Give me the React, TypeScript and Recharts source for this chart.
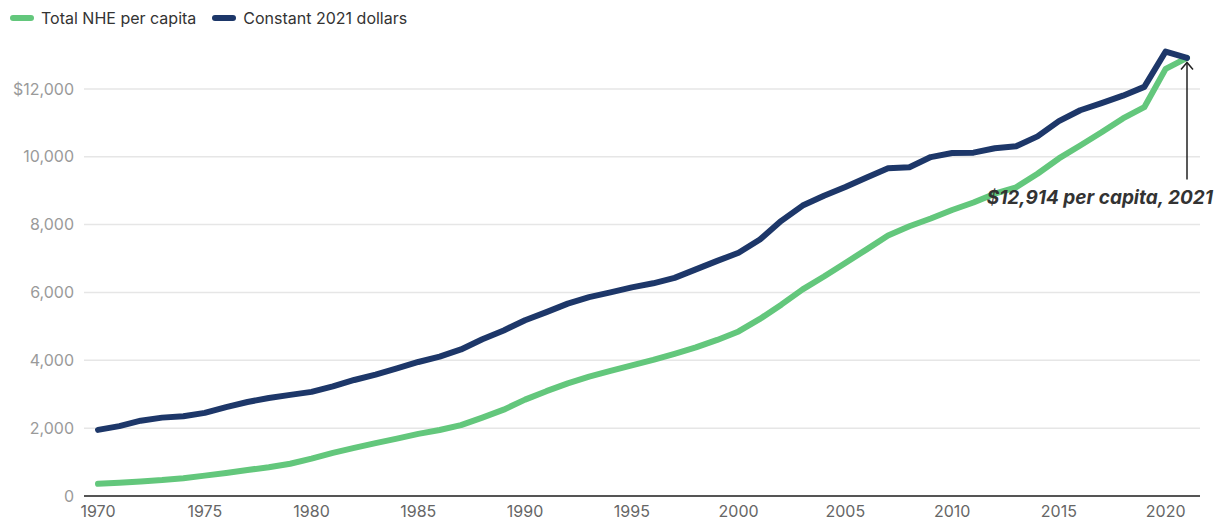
import React from 'react';
import { LineChart, Line, XAxis, YAxis, CartesianGrid, ReferenceLine } from 'recharts';

const years = [
  1970, 1971, 1972, 1973, 1974, 1975, 1976, 1977, 1978, 1979,
  1980, 1981, 1982, 1983, 1984, 1985, 1986, 1987, 1988, 1989,
  1990, 1991, 1992, 1993, 1994, 1995, 1996, 1997, 1998, 1999,
  2000, 2001, 2002, 2003, 2004, 2005, 2006, 2007, 2008, 2009,
  2010, 2011, 2012, 2013, 2014, 2015, 2016, 2017, 2018, 2019,
  2020, 2021,
];

// nominal NHE per capita
const totalNhe = [
  360, 390, 430, 470, 525, 600, 680, 765, 850, 950,
  1100, 1270, 1420, 1560, 1690, 1830, 1945, 2090, 2310, 2545,
  2840, 3090, 3320, 3520, 3690, 3850, 4010, 4190, 4380, 4600,
  4850, 5220, 5640, 6090, 6470, 6870, 7270, 7680, 7950, 8180,
  8430, 8650, 8910, 9100, 9500, 9950, 10330, 10720, 11130, 11460,
  12590, 12914,
];

// constant 2021 dollars
const constant2021 = [
  1950, 2060, 2220, 2310, 2350, 2450, 2620, 2770, 2890, 2980,
  3070, 3230, 3420, 3580, 3760, 3950, 4110, 4320, 4620, 4880,
  5180, 5420, 5670, 5860, 6000, 6150, 6270, 6430, 6680, 6930,
  7170, 7560, 8110, 8560, 8850, 9110, 9390, 9660, 9690, 9990,
  10110, 10120, 10250, 10310, 10600, 11050, 11370, 11580, 11800, 12060,
  13100, 12914,
];

const xTicks = [1970, 1975, 1980, 1985, 1990, 1995, 2000, 2005, 2010, 2015, 2020];
const yTicks = [0, 2000, 4000, 6000, 8000, 10000, 12000];

const GREEN = '#63c77c';
const NAVY = '#1d3769';
const FONT = 'Inter, "Open Sans", sans-serif';

const data = years.map((year, i) => ({
  year,
  total: totalNhe[i],
  constant: constant2021[i],
}));

const legendItems = [
  { label: 'Total NHE per capita', color: GREEN },
  { label: 'Constant 2021 dollars', color: NAVY },
];

const Annotation = (props: any) => {
  const { x1, y1, y2 } = props;
  const top = Math.min(y1, y2);
  const bottom = Math.max(y1, y2);
  return (
    <g>
      <line x1={x1} y1={bottom} x2={x1} y2={top} stroke="#222" strokeWidth={1.5} />
      <polyline
        points={`${x1 - 6},${top + 7} ${x1},${top} ${x1 + 6},${top + 7}`}
        fill="none"
        stroke="#222"
        strokeWidth={1.5}
      />
      <text
        x={x1 + 26}
        y={bottom + 25}
        textAnchor="end"
        fontFamily={FONT}
        fontSize={19}
        fontWeight={700}
        fontStyle="italic"
        fill="#333"
      >
        $12,914 per capita, 2021
      </text>
    </g>
  );
};

export default function App() {
  return (
    <div style={{ position: 'relative', margin: -8, width: 1224, height: 525, background: '#fff' }}>
      <div
        style={{
          position: 'absolute', top: 8, left: 10, zIndex: 1,
          display: 'flex', alignItems: 'center', fontFamily: FONT, fontSize: 16, color: '#333',
        }}
      >
        {legendItems.map((it) => (
          <div key={it.label} style={{ display: 'flex', alignItems: 'center', marginRight: 16 }}>
            <span style={{ display: 'inline-block', width: 24, height: 6, borderRadius: 3, background: it.color, marginRight: 7 }} />
            <span>{it.label}</span>
          </div>
        ))}
      </div>
      <LineChart width={1224} height={525} data={data} margin={{ top: 38, right: 24, left: 0, bottom: 4 }}>
        <CartesianGrid vertical={false} horizontalValues={yTicks} stroke="#e6e6e6" strokeWidth={1.5} />
        <XAxis
          dataKey="year"
          type="number"
          domain={[1970, 2021]}
          ticks={xTicks}
          padding={{ left: 14, right: 13 }}
          axisLine={{ stroke: '#555', strokeWidth: 2 }}
          tickLine={false}
          tick={{ fill: '#666', fontSize: 16, fontFamily: FONT }}
          tickMargin={4}
          height={25}
        />
        <YAxis
          domain={[0, 13500]}
          ticks={yTicks}
          axisLine={false}
          tickLine={false}
          width={84}
          tickMargin={4}
          tick={{ fill: '#9a9a9a', fontSize: 16, fontFamily: FONT }}
          tickFormatter={(v: number) => (v === 12000 ? '$12,000' : v.toLocaleString('en-US'))}
        />
        <Line
          type="linear"
          dataKey="total"
          name="Total NHE per capita"
          stroke={GREEN}
          strokeWidth={6}
          strokeLinecap="round"
          strokeLinejoin="round"
          dot={false}
          isAnimationActive={false}
        />
        <Line
          type="linear"
          dataKey="constant"
          name="Constant 2021 dollars"
          stroke={NAVY}
          strokeWidth={6}
          strokeLinecap="round"
          strokeLinejoin="round"
          dot={false}
          isAnimationActive={false}
        />
        <ReferenceLine
          segment={[{ x: 2021, y: 9330 }, { x: 2021, y: 12780 }]}
          shape={<Annotation />}
        />
      </LineChart>
    </div>
  );
}
